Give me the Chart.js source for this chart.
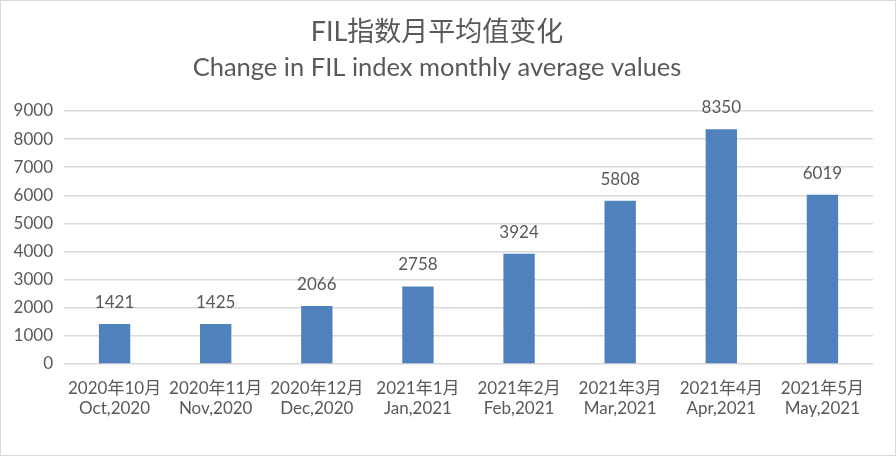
<!DOCTYPE html>
<html>
<head>
<meta charset="utf-8">
<script src="https://cdn.jsdelivr.net/npm/chart.js@4"></script>
<style>
  body { margin: 0; background: #fff; }
  #wrap { position: relative; width: 896px; height: 456px; box-sizing: border-box; border: 1px solid #d9d9d9; }
</style>
</head>
<body>
<div id="wrap"><canvas id="filChart"></canvas></div>
<script>
// Monthly labels (Chinese + English) and average values
const cnLabels = ['2020年10月', '2020年11月', '2020年12月', '2021年1月', '2021年2月', '2021年3月', '2021年4月', '2021年5月'];
const enLabels = ['Oct,2020', 'Nov,2020', 'Dec,2020', 'Jan,2021', 'Feb,2021', 'Mar,2021', 'Apr,2021', 'May,2021'];
const avgValues = [1421, 1425, 2066, 2758, 3924, 5808, 8350, 6019];

const textColor = '#595959';
const fontFamily = "Lato, 'Noto Sans CJK SC', sans-serif";

// Draw the value above each bar
const valueLabels = {
    id: 'valueLabels',
    afterDatasetsDraw(chart) {
        const ctx = chart.ctx;
        const meta = chart.getDatasetMeta(0);
        ctx.save();
        ctx.fillStyle = textColor;
        ctx.font = "17px " + fontFamily;
        ctx.textAlign = 'center';
        ctx.textBaseline = 'bottom';
        meta.data.forEach((bar, i) => {
            ctx.fillText(chart.data.datasets[0].data[i], bar.x, bar.y - 13);
        });
        ctx.restore();
    }
};

new Chart(document.getElementById('filChart'), {
    type: 'bar',
    data: {
        labels: cnLabels.map((cn, i) => [cn, enLabels[i]]),
        datasets: [{
            data: avgValues,
            backgroundColor: '#4f81bd',
            barPercentage: 0.31,
            categoryPercentage: 1
        }]
    },
    options: {
        responsive: true,
        maintainAspectRatio: false,
        animation: false,
        layout: { padding: { left: 0, right: 22, top: 0, bottom: 0 } },
        plugins: {
            legend: { display: false },
            tooltip: { enabled: false },
            title: {
                display: true,
                text: 'FIL指数月平均值变化',
                color: textColor,
                font: { family: fontFamily, size: 27, weight: 'normal' },
                padding: { top: 15, bottom: 4 }
            },
            subtitle: {
                display: true,
                text: 'Change in FIL index monthly average values',
                color: textColor,
                font: { family: fontFamily, size: 25.5, weight: 'normal' },
                padding: { top: 0, bottom: 28 }
            }
        },
        scales: {
            x: {
                grid: { display: false },
                border: { display: false },
                ticks: { color: textColor, font: { family: fontFamily, size: 17 }, maxRotation: 0, padding: 6 },
                afterFit: s => { s.height = 91; }
            },
            y: {
                min: 0,
                max: 9000,
                ticks: {
                    stepSize: 1000,
                    color: textColor,
                    font: { family: fontFamily, size: 17 },
                    padding: 11,
                    callback: v => String(v)
                },
                grid: { color: '#d9d9d9', lineWidth: 1.5, drawTicks: false },
                border: { display: false },
                afterFit: s => { s.width = 63; }
            }
        }
    },
    plugins: [valueLabels]
});
</script>
</body>
</html>
